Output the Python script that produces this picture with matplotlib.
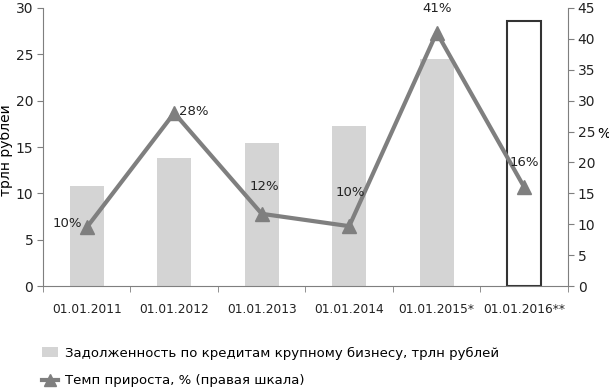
import matplotlib.pyplot as plt
import numpy as np
from matplotlib.lines import Line2D
from matplotlib.patches import Patch

plt.rcParams['font.family'] = ['DejaVu Sans']

dates = ['01.01.2011', '01.01.2012', '01.01.2013', '01.01.2014', '01.01.2015*', '01.01.2016**']
debt = [10.8, 13.8, 15.4, 17.3, 24.5, 28.6]
growth = [9.5, 28, 11.7, 9.7, 41, 16]
growth_labels = ['10%', '28%', '12%', '10%', '41%', '16%']

gray = '#7f7f7f'
fig = plt.figure(figsize=(6.09, 3.92), dpi=100)
ax = fig.add_axes([0.0706, 0.270, 0.862, 0.710])
x = np.arange(len(dates))

colors = ['#d4d4d4'] * 5 + ['white']
edges = ['none'] * 5 + ['#333333']
ax.bar(x, debt, width=0.39, color=colors, edgecolor=edges, linewidth=1.5, zorder=2)
ax.set_xlim(-0.5, 5.5)
ax.set_ylim(0, 30)
ax.set_yticks(range(0, 31, 5))
ax.set_xticks(x)
ax.set_xticklabels(dates)
ax.set_xticks(np.arange(-0.5, 6, 1), minor=True)
ax.tick_params(axis='x', which='major', length=0, pad=12, labelsize=8.8, colors='#222222')
ax.tick_params(axis='x', which='minor', length=4, color=gray)
ax.tick_params(axis='y', labelsize=10, colors='#222222', color=gray, length=4, pad=3)
ax.set_ylabel('трлн рублей', fontsize=10)
ax.yaxis.set_label_coords(-0.058, 0.49)
for s in ['top', 'right']:
    ax.spines[s].set_visible(False)
for s in ['left', 'bottom']:
    ax.spines[s].set_color(gray)

ax2 = ax.twinx()
ax2.plot(x, growth, color=gray, lw=3, marker='^', markersize=10, zorder=3)
ax2.set_ylim(0, 45)
ax2.set_yticks(range(0, 46, 5))
ax2.tick_params(axis='y', labelsize=10, colors='#222222', color=gray, length=4, pad=3)
ax2.set_ylabel('%', rotation=0, fontsize=10, va='center', ha='center')
ax2.yaxis.set_label_coords(1.068, 0.545)
for s in ['top', 'left', 'bottom']:
    ax2.spines[s].set_visible(False)
ax2.spines['right'].set_color(gray)

offsets = [(-14, 3), (14, 1), (2, 20), (1, 24), (0, 17), (0, 18)]
for xi, g, lab, off in zip(x, growth, growth_labels, offsets):
    ax2.annotate(lab, (xi, g), xytext=off, textcoords='offset points',
                 ha='center', va='center', fontsize=9.5, color='#222222')

handles = [Patch(facecolor='#d4d4d4', edgecolor='none'),
           Line2D([], [], color=gray, lw=3, marker='^', markersize=9)]
labels = ['Задолженность по кредитам крупному бизнесу, трлн рублей',
          'Темп прироста, % (правая шкала)']
fig.legend(handles, labels, loc='lower left', bbox_to_anchor=(0.05, -0.018),
           frameon=False, fontsize=9.5, handlelength=1.2, handletextpad=0.5,
           labelspacing=1.1)

fig.savefig('out.png', dpi=100)
